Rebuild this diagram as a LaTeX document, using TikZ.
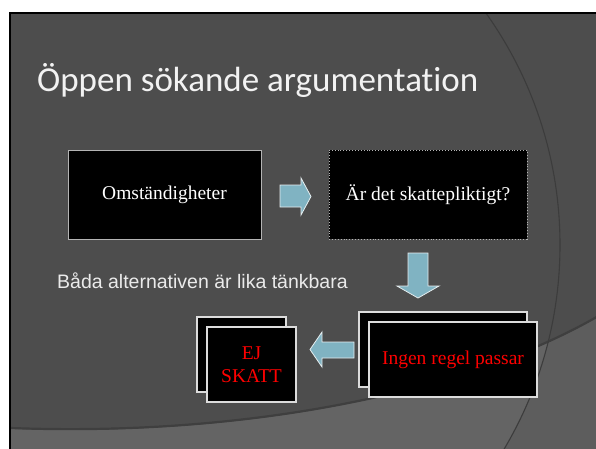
\documentclass[tikz,border=0pt]{standalone}
\usepackage{fontspec}
\setmainfont{Liberation Serif}
\newfontfamily\titlefont[Ligatures={NoCommon}]{Carlito}
\newfontfamily\armfont{Liberation Sans}
\definecolor{slidebg}{HTML}{4D4D4D}
\definecolor{bandbg}{HTML}{646464}
\definecolor{bandout}{HTML}{5D5D5D}
\definecolor{arcline}{HTML}{3C3C3C}
\definecolor{arrowfill}{HTML}{80B3C2}
\definecolor{arrowedge}{HTML}{E6EEF0}
\definecolor{boxedge}{HTML}{B4B4B4}
\definecolor{stackedge}{HTML}{DCDCDC}
\definecolor{redtext}{HTML}{FF0000}
\tikzset{
  blackbox/.style={draw=boxedge, line width=0.9pt, fill=black, inner sep=0pt, text=white,
    font=\fontsize{19.5}{22.5}\selectfont, align=center},
  dotbox/.style={blackbox, dotted},
  stackbox/.style={draw=stackedge, line width=1.1pt, fill=black, inner sep=0pt, text=redtext,
    font=\fontsize{19.5}{22.5}\selectfont, align=center},
  blockarrow/.style={fill=arrowfill, draw=arrowedge, line width=0.8pt, line join=miter},
}
\begin{document}
\begin{tikzpicture}[x=1pt,y=-1pt]
\useasboundingbox (0,0) rectangle (596,448);
\fill[white] (-4,-4) rectangle (600,452);
\fill[black] (9,12) rectangle (600,452);
\fill[slidebg] (11,14) rectangle (600,452);
% background decoration
\begin{scope}
  \clip (11,14) rectangle (600,452);
  \fill[bandout] (11,429) .. controls (250,438) and (470,392) .. (600,316) -- (600,452) -- (11,452) -- cycle;
  \begin{scope}
    \clip (11,429) .. controls (250,438) and (470,392) .. (600,316) -- (600,452) -- (11,452) -- cycle;
    \fill[bandbg] (160,245) circle (400pt);
  \end{scope}
  \draw[arcline!80!slidebg, line width=2.2pt] (11,428) .. controls (250,437) and (470,391) .. (600,315);
  \draw[arcline, line width=1.1pt] (160,245) circle (400pt);
\end{scope}
% title
\node[anchor=base west, inner sep=0pt, text=white!95!black, font=\titlefont\fontsize{35}{40}\selectfont]
  (title) at (37,91) {Öppen sökande argumentation};
% boxes
\node[blackbox, minimum width=193pt, minimum height=89pt] (omst) at (164.5,194.5) {Omständigheter};
\node[dotbox, minimum width=198pt, minimum height=89pt] (fraga) at (428,194.5) {Är det skattepliktigt?};
\node[stackbox, minimum width=168pt, minimum height=75pt] (ingenback) at (443,349.5) {};
\node[stackbox, minimum width=168pt, minimum height=75pt] (ingen) at (453,359.5) {Ingen regel passar};
\node[stackbox, minimum width=89pt, minimum height=75pt] (ejback) at (241.5,354.5) {};
\node[stackbox, minimum width=89pt, minimum height=75pt] (ej) at (251.5,364.5) {EJ\\SKATT};
% note
\node[anchor=base west, inner sep=0pt, text=white!92!black, font=\armfont\fontsize{19.5}{22}\selectfont]
  (note) at (57,288) {Båda alternativen är lika tänkbara};
% block arrows
\draw[blockarrow] (280,185) -- (301,185) -- (301,178) -- (311,196.5) -- (301,215) -- (301,207) -- (280,207) -- cycle;
\draw[blockarrow] (408,253) -- (428,253) -- (428,286) -- (439,286) -- (418,298) -- (397,286) -- (408,286) -- cycle;
\draw[blockarrow] (354,342) -- (322,342) -- (322,332) -- (310,349.5) -- (322,367) -- (322,358) -- (354,358) -- cycle;
\end{tikzpicture}
\end{document}
